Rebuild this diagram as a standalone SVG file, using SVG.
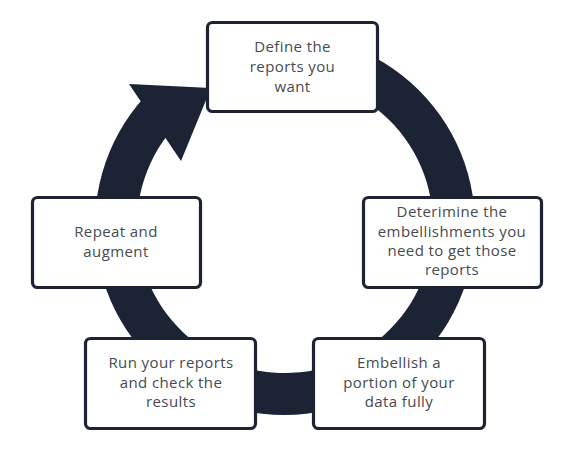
<svg xmlns="http://www.w3.org/2000/svg" width="577" height="460" viewBox="0 0 577 460">
<style>
.box{fill:#ffffff;stroke:#1d2333;stroke-width:3.2}
.ring{fill:#1b2335}
.t{font-family:"Open Sans","Liberation Sans",sans-serif;font-size:15px;fill:#474a50;text-anchor:middle;letter-spacing:0.4px}
</style>
<rect width="577" height="460" fill="#ffffff"/>
<g id="connectors">
<path class="ring" d="M 268.4 35.7 A 190 190 0 1 1 144.9 96.6 L 167.6 134.9 A 148 148 0 1 0 272.1 77.6 Z"/>
<polygon class="ring" points="129,84 211,88 181,161"/>
</g>
<g id="node-define">
<rect class="box" x="207.5" y="22.5" width="170" height="89" rx="5"/>
<text class="t" x="292.5" y="52">Define the</text>
<text class="t" x="292.5" y="72">reports you</text>
<text class="t" x="292.5" y="92">want</text>
</g>
<g id="node-determine">
<rect class="box" x="363.5" y="197.5" width="178" height="90" rx="5"/>
<text class="t" x="452" y="217">Deterimine the</text>
<text class="t" x="452" y="237">embellishments you</text>
<text class="t" x="452" y="256">need to get those</text>
<text class="t" x="452" y="275">reports</text>
</g>
<g id="node-embellish">
<rect class="box" x="313.5" y="338.5" width="171" height="90" rx="5"/>
<text class="t" x="399" y="368">Embellish a</text>
<text class="t" x="399" y="388">portion of your</text>
<text class="t" x="399" y="407">data fully</text>
</g>
<g id="node-run">
<rect class="box" x="85.5" y="338.5" width="170" height="90" rx="5"/>
<text class="t" x="171" y="368">Run your reports</text>
<text class="t" x="171" y="388">and check the</text>
<text class="t" x="171" y="407">results</text>
</g>
<g id="node-repeat">
<rect class="box" x="32.5" y="197.5" width="168" height="90" rx="5"/>
<text class="t" x="116" y="237">Repeat and</text>
<text class="t" x="116" y="257">augment</text>
</g>
</svg>
